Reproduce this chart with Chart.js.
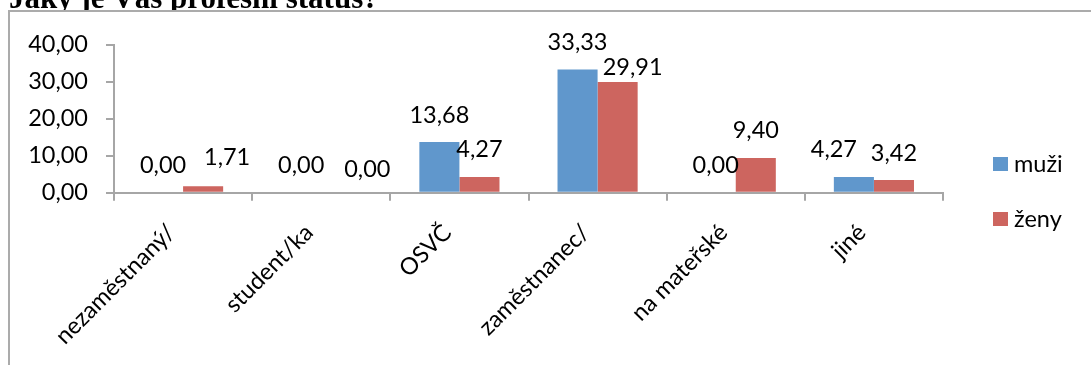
<!DOCTYPE html>
<html lang="cs">
<head>
<meta charset="utf-8">
<title>Profesní status</title>
<script src="https://cdn.jsdelivr.net/npm/chart.js@4.4.1/dist/chart.umd.min.js"></script>
<style>
  html, body { margin: 0; padding: 0; background: #ffffff; overflow: hidden; }
  #wrap { position: relative; width: 1091px; height: 365px; }
  canvas { display: block; }
</style>
</head>
<body>
<div id="wrap"><canvas id="chart" width="1091" height="365"></canvas></div>
<script>
// Profesní status respondentů (%)
const questionTitle = 'Jaký je Váš profesní status?';
const categories = ['nezaměstnaný/', 'student/ka', 'OSVČ', 'zaměstnanec/', 'na mateřské', 'jiné'];
const seriesNames = ['muži', 'ženy'];
const muzi = [0.00, 0.00, 13.68, 33.33, 0.00, 4.27];
const zeny = [1.71, 0.00, 4.27, 29.91, 9.40, 3.42];
const yTicks = [0, 10, 20, 30, 40];

const BLUE = '#6097cc';
const RED = '#cd655f';
const AXIS = '#a6a6a6';
const FONT = 'Lato';
const FONT_SIZE = 23.5;

const fmt = v => v.toFixed(2).replace('.', ',');

// nudges for value labels that would otherwise collide: "dataset-index" -> [dx, dy]
const labelNudges = {
  '1-0': [24, -2],
  '1-1': [26, 4],
  '1-3': [15, 12],
  '0-5': [-20, 0]
};

const framePlugin = {
  id: 'frame',
  beforeDraw(chart) {
    const ctx = chart.ctx;
    ctx.save();
    ctx.fillStyle = '#ffffff';
    ctx.fillRect(0, 0, chart.width, chart.height);
    // heading of the page above the chart box (only its lower part shows)
    ctx.fillStyle = '#000000';
    ctx.font = 'bold 31px "Liberation Serif"';
    ctx.textBaseline = 'alphabetic';
    ctx.textAlign = 'left';
    ctx.fillText(questionTitle, 9, 8);
    // the chart box sits on top of the heading
    ctx.fillStyle = '#ffffff';
    ctx.fillRect(9, 11, chart.width - 9, chart.height - 11);
    ctx.strokeStyle = '#ababab';
    ctx.lineWidth = 2;
    ctx.beginPath();
    ctx.moveTo(9, chart.height);
    ctx.lineTo(9, 11);
    ctx.lineTo(chart.width, 11);
    ctx.stroke();
    ctx.restore();
  }
};

const valueLabelPlugin = {
  id: 'valueLabels',
  afterDatasetsDraw(chart) {
    const ctx = chart.ctx;
    ctx.save();
    ctx.fillStyle = '#000000';
    ctx.font = FONT_SIZE + 'px ' + FONT;
    ctx.textAlign = 'center';
    ctx.textBaseline = 'alphabetic';
    chart.data.datasets.forEach((ds, di) => {
      chart.getDatasetMeta(di).data.forEach((bar, i) => {
        const n = labelNudges[di + '-' + i] || [0, 0];
        ctx.fillText(fmt(ds.data[i]), bar.x + n[0], bar.y - 19.5 + n[1]);
      });
    });
    ctx.restore();
  }
};

const sideLegendPlugin = {
  id: 'sideLegend',
  afterDraw(chart) {
    const ctx = chart.ctx;
    ctx.save();
    ctx.font = FONT_SIZE + 'px ' + FONT;
    ctx.textAlign = 'left';
    ctx.textBaseline = 'middle';
    chart.data.datasets.forEach((ds, di) => {
      const y = 157 + di * 55;
      ctx.fillStyle = ds.backgroundColor;
      ctx.fillRect(993, y, 15, 14);
      ctx.fillStyle = '#000000';
      ctx.fillText(ds.label, 1014, y + 7);
    });
    ctx.restore();
  }
};

new Chart(document.getElementById('chart'), {
  type: 'bar',
  data: {
    labels: categories,
    datasets: [
      { label: seriesNames[0], data: muzi, backgroundColor: BLUE },
      { label: seriesNames[1], data: zeny, backgroundColor: RED }
    ]
  },
  options: {
    responsive: false,
    devicePixelRatio: 1,
    animation: false,
    categoryPercentage: 0.58,
    barPercentage: 1,
    layout: { padding: { top: 44.7, right: 148, left: 0, bottom: 0 } },
    plugins: {
      legend: { display: false },
      title: { display: false },
      tooltip: { enabled: false }
    },
    scales: {
      x: {
        grid: { offset: true, drawOnChartArea: false, tickLength: 8, color: AXIS, lineWidth: 2 },
        border: { color: AXIS, width: 2 },
        ticks: {
          minRotation: 45, maxRotation: 45, autoSkip: false,
          color: '#000000', font: { family: FONT, size: FONT_SIZE },
          padding: 18, labelOffset: -12
        },
        afterFit(scale) { scale.height = 365 - 192.7; }
      },
      y: {
        min: 0, max: 40,
        afterBuildTicks(scale) { scale.ticks = yTicks.map(v => ({ value: v })); },
        grid: { drawOnChartArea: false, tickLength: 8, color: AXIS, lineWidth: 2 },
        border: { color: AXIS, width: 2 },
        ticks: {
          color: '#000000', font: { family: FONT, size: FONT_SIZE }, padding: 18,
          callback: v => fmt(v)
        },
        afterFit(scale) { scale.width = 114; }
      }
    }
  },
  plugins: [framePlugin, valueLabelPlugin, sideLegendPlugin]
});
</script>
</body>
</html>
